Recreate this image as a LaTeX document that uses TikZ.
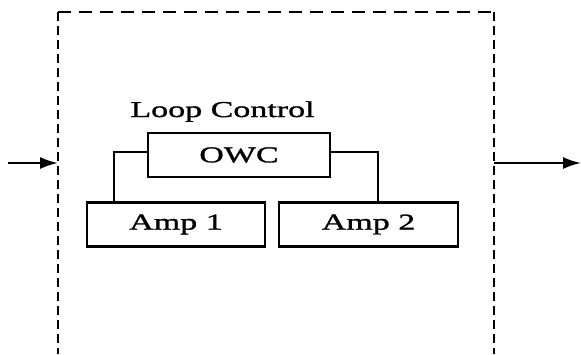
\documentclass[tikz,border=0pt]{standalone}
\usepackage{fontspec}
\setmainfont[FakeStretch=1.5, FakeBold=1.3]{Liberation Serif}
\usetikzlibrary{arrows.meta}
\begin{document}
\begin{tikzpicture}[x=0.75pt, y=-0.75pt, font=\fontsize{17}{20}\selectfont, block/.style={draw, line width=1.9pt, minimum height=33pt, inner sep=0pt}, link/.style={line width=1.4pt}, flow/.style={line width=1.5pt, -{Latex[length=13.5pt, width=9pt]}}, frameh/.style={line width=1.8pt, dash pattern=on 9.75pt off 6pt}, framev/.style={line width=2.2pt, dash pattern=on 6.75pt off 3.75pt}]
		\useasboundingbox (0,0) rectangle (581,354);
		\node[block, minimum width=136.5pt] (owc) at (239,155) {OWC};
		\node[block, minimum width=133.5pt] (amp1) at (176,224.5) {Amp 1};
		\node[block, minimum width=134.25pt] (amp2) at (368.5,224.5) {Amp 2};
		\node[anchor=base, inner sep=0pt] (loop) at (222.5,117) {Loop Control};
		\coordinate (tl) at (58,12);
		\coordinate (tr) at (494,12);
		\coordinate (bl) at (58,354);
		\coordinate (br) at (494,354);
		\coordinate (src) at (8,163);
		\coordinate (dst) at (581,163);
		\coordinate (lj) at (114,152);
		\coordinate (rj) at (378,152);
		\draw[frameh] (tl) -- (tr);
		\draw[framev] (tl) -- (bl);
		\draw[framev] (tr) -- (br);
		\draw[link] (owc.west |- lj) -| (amp1.north -| lj);
		\draw[link] (owc.east |- rj) -| (amp2.north -| rj);
		\draw[flow] (src) -- (src -| tl);
		\draw[flow] (dst -| tr) -- (dst);
	\end{tikzpicture}
\end{document}
